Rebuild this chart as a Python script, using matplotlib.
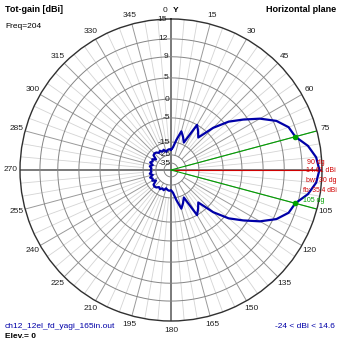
import numpy as np
import matplotlib.pyplot as plt

plt.rcParams['font.family'] = ['Liberation Sans', 'DejaVu Sans']
plt.rcParams['font.size'] = 6

# Pattern: azimuth (deg, clockwise from Y) and total gain (dBi)
AZIMUTH = np.arange(0, 360, 5)
GAIN_DBI = [
    -21.0, -19.0, -14.0, -10.0, -12.0, -14.0, -5.0, -7.0, -9.0, -3.0,    # 0..45
    1.0, 4.0, 7.0, 9.5, 11.0, 11.6, 13.2, 14.2, 14.61,                   # 50..90
    14.2, 13.2, 11.6, 11.0, 9.5, 7.0, 4.0, 1.0, -3.0,                    # 95..135
    -9.0, -7.0, -5.0, -14.0, -12.0, -10.0, -14.0, -19.0, -21.0,          # 140..180
    -20.5, -21.0, -22.0, -20.0, -21.0, -19.5, -20.5, -19.0, -18.5,       # 185..225
    -19.0, -22.5, -20.0, -21.0, -19.5, -22.0, -20.0, -21.5, -20.8,       # 230..270
    -21.5, -20.0, -22.0, -19.5, -21.0, -20.0, -22.5, -19.0, -18.5,       # 275..315
    -19.0, -20.5, -19.5, -21.0, -20.0, -22.0, -21.0, -20.5,              # 320..355
]

RING_DB = [15, 12, 9, 5, 0, -5, -15, -25, -35]
RING_LABELS = ['15', '12', '9', '5', '0', '-5', '-15', '-25', '-35']
THETA_TICKS = [0, 15, 30, 45, 60, 75, 105, 120, 135, 150, 165, 180,
               195, 210, 225, 240, 255, 270, 285, 300, 315, 330, 345]

MAX_AZ = 90
MAX_GAIN = 14.61
HPBW_AZ = [75, 105]
HP_GAIN = 11.61

# log-like radial scale used by the plotting program (dB -> fraction of radius)
SCALE_DB = [-60, -35, -25, -15, -5, 0, 5, 9, 12, 15, 20]
SCALE_R = [0, 0.046, 0.10, 0.185, 0.345, 0.47, 0.61, 0.75, 0.868, 1.0, 1.13]


def fwd(v):
    return np.interp(v, SCALE_DB, SCALE_R)


def inv(v):
    return np.interp(v, SCALE_R, SCALE_DB)


W = H = 339
fig = plt.figure(figsize=(W / 100, H / 100), dpi=100)
ax = fig.add_axes([0.059, 0.0531, 0.8909, 0.8909], projection='polar')
ax.set_theta_zero_location('N')
ax.set_theta_direction(-1)
ax.set_rscale('function', functions=(fwd, inv))
ax.set_rlim(-60, 15)
ax.grid(False)
ax.set_yticks([])

circ = np.radians(np.linspace(0, 360, 361))
rmin = -60

# radial grid lines
for a in range(0, 360, 5):
    t = np.radians(a)
    if a % 90 == 0:
        ax.plot([t, t], [rmin, 15], color='#707070', lw=1.3, zorder=1)
    elif a % 15 == 0:
        ax.plot([t, t], [-25, 15], color='#9a9a9a', lw=0.7, zorder=1)
    else:
        ax.plot([t, t], [-15, 15], color='#d4d4d4', lw=0.6, zorder=1)

# rings
for db in RING_DB[1:]:
    ax.plot(circ, np.full(circ.shape, db), color='#858585', lw=0.7, zorder=1)
for db, lab in zip(RING_DB, RING_LABELS):
    ax.text(np.radians(-1.5), db, lab, ha='right', va='center', color='#202020', zorder=3)

ax.spines['polar'].set_color('#303030')
ax.spines['polar'].set_linewidth(1.0)

# the 0 label sits left of the axis, next to the "Y"
ax.set_thetagrids(THETA_TICKS, ['' if a == 0 else str(a) for a in THETA_TICKS])
ax.tick_params(axis='x', pad=-4, colors='#202020', labelsize=6)

# markers: max direction and half power beamwidth
ax.plot([np.radians(MAX_AZ)] * 2, [rmin, 15], color='#d00000', lw=0.8, zorder=2)
for a in HPBW_AZ:
    ax.plot([np.radians(a)] * 2, [rmin, 15], color='#00a000', lw=0.8, zorder=2)

az = np.radians(np.append(AZIMUTH, AZIMUTH[0]))
g = np.append(GAIN_DBI, GAIN_DBI[0])
ax.plot(az, g, color='#0000a8', lw=1.6, zorder=4)
ax.plot(np.radians(HPBW_AZ), [HP_GAIN, HP_GAIN], 'o', color='#00a000', ms=3, zorder=5)


def px(x, y):
    return x / W, 1 - y / H


fig.text(*px(5, 9), 'Tot-gain [dBi]', fontsize=6.5, fontweight='bold', va='center')
fig.text(*px(5, 27), 'Freq=204', va='center')
fig.text(*px(336, 9), 'Horizontal plane', fontsize=6.5, fontweight='bold', va='center', ha='right')
fig.text(*px(165, 11), '0', va='center', ha='center', color='#202020')
fig.text(*px(173, 11), 'Y', fontweight='bold', va='center')
fig.text(*px(5, 326), 'ch12_12el_fd_yagi_165in.out', color='#0000a8', va='center')
fig.text(*px(5, 336), 'Elev.= 0', fontweight='bold', va='center')
fig.text(*px(335, 326), '-24 < dBi < 14.6', color='#0000a8', va='center', ha='right')

red = '#d00000'
fig.text(*px(307, 162), '90 dg', color=red, va='center', fontsize=5)
fig.text(*px(306, 171), '14.61 dBi', color=red, va='center', fontsize=5)
fig.text(*px(306, 181), 'bw: 30 dg', color=red, va='center', fontsize=5)
fig.text(*px(337, 190), 'fb: 35.4 dBi', color=red, va='center', ha='right', fontsize=4.8)
fig.text(*px(303, 201), '105 dg', color='#00a000', va='center', fontsize=5)

fig.savefig('out.png', dpi=100, facecolor='white')
